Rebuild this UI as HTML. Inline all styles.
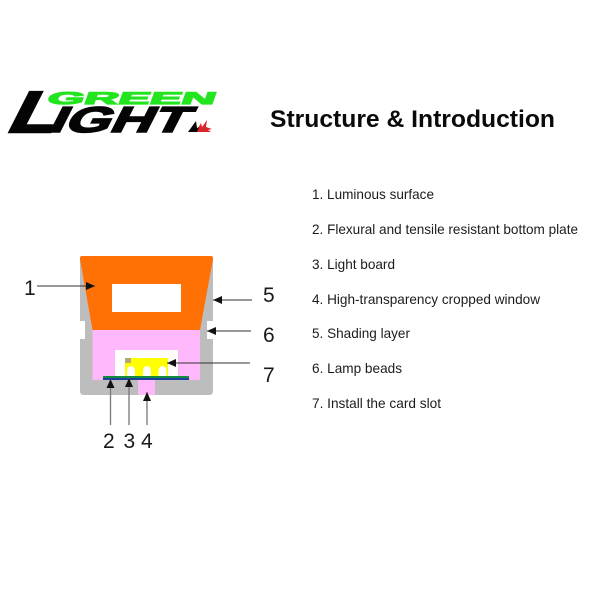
<!DOCTYPE html>
<html>
<head>
<meta charset="utf-8">
<style>
html,body{margin:0;padding:0;background:#fff;width:600px;height:600px;overflow:hidden}
svg{display:block}
text{font-family:"Liberation Sans",sans-serif}
</style>
</head>
<body>
<svg width="600" height="600" viewBox="0 0 600 600" xmlns="http://www.w3.org/2000/svg">
<defs>
<marker id="a" markerWidth="10" markerHeight="8" refX="9" refY="4" orient="auto" markerUnits="userSpaceOnUse"><path d="M0 0L9 4L0 8Z" fill="#111"/></marker>
</defs>
<rect width="600" height="600" fill="#fff"/>

<!-- logo -->
<text transform="translate(46 104) skewX(-20)" font-weight="700" font-size="17" fill="#22e41f" stroke="#22e41f" stroke-width="1.200" textLength="168" lengthAdjust="spacingAndGlyphs" x="0">GREEN</text>
<text transform="translate(10 132) skewX(-27) scale(1.35 1)" x="-4" font-weight="700" font-size="58" fill="#050505" stroke="#050505" stroke-width="2.500">L</text>
<text transform="translate(47 132) skewX(-27)" x="0" font-weight="700" font-size="36" fill="#050505" stroke="#050505" stroke-width="1.600" textLength="138" lengthAdjust="spacingAndGlyphs">IGHT</text>
<path d="M196 132l5-9 1 4 5-7-1 7 6 2-4 1 3 2h-8l-3 0z" fill="#d8262a"/>
<path d="M188 132l8-11 1 7 2-1-2 5z" fill="#050505"/>

<!-- title -->
<text x="270" y="127" font-weight="700" font-size="24" fill="#0a0a0a" textLength="285" lengthAdjust="spacingAndGlyphs">Structure &amp; Introduction</text>

<!-- list -->
<g font-size="14" fill="#1c1c1c">
<text x="312" y="199" textLength="122" lengthAdjust="spacingAndGlyphs">1. Luminous surface</text>
<text x="312" y="234" textLength="266" lengthAdjust="spacingAndGlyphs">2. Flexural and tensile resistant bottom plate</text>
<text x="312" y="269" textLength="83" lengthAdjust="spacingAndGlyphs">3. Light board</text>
<text x="312" y="304" textLength="228" lengthAdjust="spacingAndGlyphs">4. High-transparency cropped window</text>
<text x="312" y="338" textLength="98" lengthAdjust="spacingAndGlyphs">5. Shading layer</text>
<text x="312" y="373" textLength="90" lengthAdjust="spacingAndGlyphs">6. Lamp beads</text>
<text x="312" y="408" textLength="129" lengthAdjust="spacingAndGlyphs">7. Install the card slot</text>
</g>

<!-- body -->
<path d="M82 256H211Q213 256 213 258V321H207V339H213V391Q213 395 209 395H84Q80 395 80 391V339H85V321H80V258Q80 256 82 256Z" fill="#bdbdbd"/>
<path d="M92.500 330H200V380H92.500Z" fill="#ffb8fb"/>
<path d="M82 256H211Q213 256 213 258V259L200 330H92.500L80 259V258Q80 256 82 256Z" fill="#ff7104"/>
<rect x="112" y="284" width="69" height="28" fill="#fff"/>
<rect x="115" y="350" width="63" height="27" fill="#fff"/>
<rect x="138" y="379" width="17" height="16" fill="#ffb8fb"/>

<!-- lamp -->
<rect x="125" y="358" width="43" height="18" fill="#ffff00"/>
<rect x="125" y="358" width="6" height="5" fill="#b5a878"/>
<path d="M127 376V371a4 5 0 0 1 8 0V376Z" fill="#fff"/>
<path d="M143 376V371a4 5 0 0 1 8 0V376Z" fill="#fff"/>
<path d="M158.500 376V371a4 5 0 0 1 8 0V376Z" fill="#fff"/>
<rect x="103" y="376" width="86" height="2" fill="#138a3c"/>
<rect x="103" y="378" width="86" height="2" fill="#1a3f9c"/>

<!-- arrows -->
<g stroke="#333" stroke-width="1" fill="none">
<path d="M37 286H95" marker-end="url(#a)"/>
<path d="M252 300H213" marker-end="url(#a)"/>
<path d="M251 331H207" marker-end="url(#a)"/>
<path d="M250 363H167" marker-end="url(#a)"/>
</g>
<g stroke="#777" stroke-width="1.300" fill="none">
<path d="M110.500 425V379" marker-end="url(#a)"/>
<path d="M129 425V378" marker-end="url(#a)"/>
<path d="M147 425V392" marker-end="url(#a)"/>
</g>

<!-- callouts -->
<g font-size="21" fill="#1a1a1a">
<text x="24" y="295">1</text>
<text x="263" y="302">5</text>
<text x="263" y="342">6</text>
<text x="263" y="382">7</text>
<text x="103" y="448">2</text>
<text x="123.500" y="448">3</text>
<text x="141" y="448">4</text>
</g>
</svg>
</body>
</html>
